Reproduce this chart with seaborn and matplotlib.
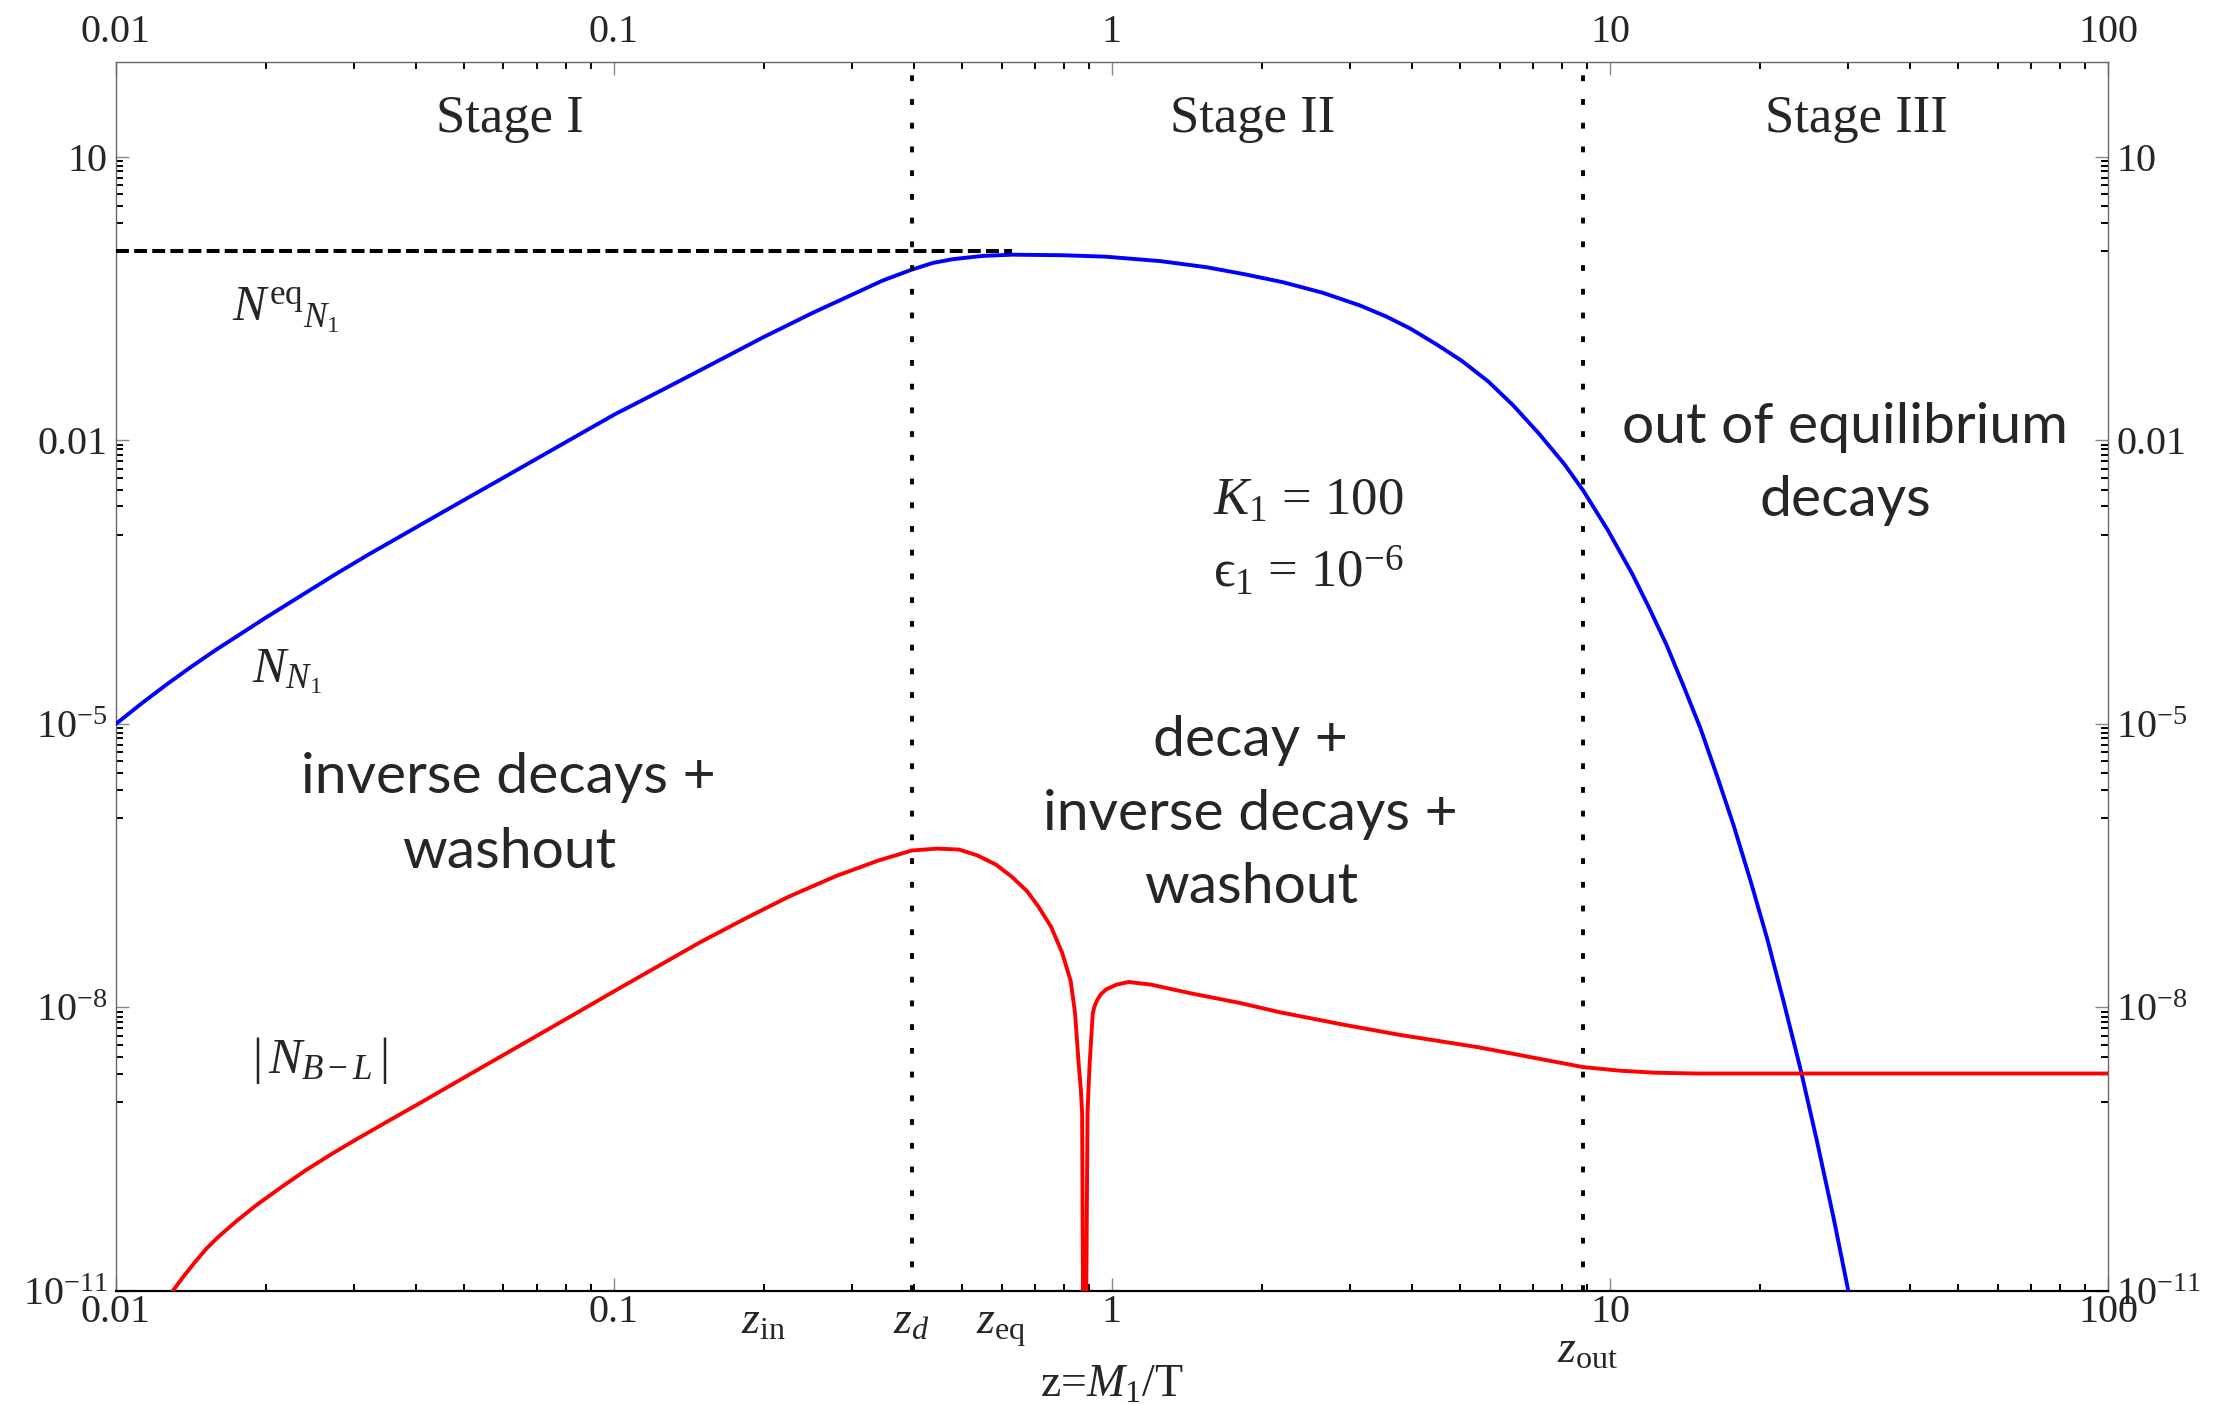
import matplotlib
matplotlib.use("Agg")
import matplotlib.pyplot as plt
import seaborn as sns
import pandas as pd
from matplotlib.ticker import FixedLocator, FixedFormatter, NullLocator, NullFormatter

# ---------------- values ----------------
# N_N1 (blue)
blue_z = [0.01, 0.01122, 0.01259, 0.01413, 0.01585, 0.01778, 0.01995, 0.02344, 0.02754, 0.03236,
          0.03715, 0.04677, 0.05888, 0.07762, 0.1, 0.1259, 0.1514, 0.1995, 0.2512, 0.298,
          0.3467, 0.396, 0.4365, 0.4786, 0.5495, 0.631, 0.794, 0.97, 1.25, 1.55,
          1.85, 2.21, 2.65, 3.15, 3.55, 3.98, 4.5, 5.04, 5.7, 6.39,
          7.2, 8.09, 8.83, 9.9, 11.1, 12.0, 13.0, 14.0, 15.2, 16.4,
          17.7, 19.2, 20.7, 22.3, 24.1, 26.0, 28.1, 30.1, 30.5]
blue_N = [1.0e-5, 1.62e-5, 2.57e-5, 3.98e-5, 6.03e-5, 8.91e-5, 1.32e-4, 2.24e-4, 3.80e-4, 6.31e-4,
          9.55e-4, 1.91e-3, 3.80e-3, 8.71e-3, 1.86e-2, 3.47e-2, 5.75e-2, 0.123, 0.224, 0.339,
          0.490, 0.637, 0.750, 0.822, 0.891, 0.918, 0.906, 0.875, 0.785, 0.676,
          0.569, 0.468, 0.363, 0.266, 0.204, 0.151, 0.102, 0.0692, 0.0417, 0.0234,
          0.01175, 5.62e-3, 2.95e-3, 1.12e-3, 3.80e-4, 1.66e-4, 6.76e-5, 2.63e-5, 8.91e-6, 2.82e-6,
          8.51e-7, 2.09e-7, 5.25e-8, 1.17e-8, 2.29e-9, 3.98e-10, 6.03e-11, 1.0e-11, 6.76e-12]

# |N_B-L| (red)
red_z = [0.013, 0.0136, 0.01435, 0.0152, 0.0161, 0.0175, 0.0191, 0.0215, 0.0241, 0.0272,
         0.0305, 0.035, 0.0414, 0.052, 0.07, 0.085, 0.1, 0.122, 0.149, 0.185,
         0.224, 0.28, 0.34, 0.396, 0.446, 0.493, 0.536, 0.585, 0.63, 0.675,
         0.713, 0.755, 0.794, 0.826, 0.843, 0.857, 0.866, 0.871, 0.880, 0.893,
         0.897, 0.902, 0.915, 0.922, 0.934, 0.95, 0.973, 1.02, 1.08, 1.2,
         1.44, 1.8, 2.17, 2.9, 3.78, 5.43, 7.0, 8.83, 10.5, 12.3,
         15.0, 20.0, 50.0, 100.0]
red_N = [1.0e-11, 1.38e-11, 1.97e-11, 2.82e-11, 3.80e-11, 5.56e-11, 8.04e-11, 1.26e-10, 1.91e-10, 2.85e-10,
         4.07e-10, 6.17e-10, 1.02e-9, 2.04e-9, 5.01e-9, 9.02e-9, 1.48e-8, 2.69e-8, 4.90e-8, 8.91e-8,
         1.48e-7, 2.47e-7, 3.59e-7, 4.57e-7, 4.79e-7, 4.68e-7, 4.07e-7, 3.24e-7, 2.40e-7, 1.70e-7,
         1.15e-7, 7.08e-8, 3.80e-8, 1.91e-8, 8.71e-9, 2.57e-9, 1.35e-9, 7.59e-10, 1.0e-14, 7.59e-10,
         1.35e-9, 2.57e-9, 8.71e-9, 1.02e-8, 1.20e-8, 1.38e-8, 1.55e-8, 1.74e-8, 1.86e-8, 1.74e-8,
         1.41e-8, 1.12e-8, 8.91e-9, 6.61e-9, 5.13e-9, 3.80e-9, 2.95e-9, 2.34e-9, 2.14e-9, 2.04e-9,
         2.0e-9, 2.0e-9, 2.0e-9, 2.0e-9]

# equilibrium value (dashed)
eq_z = [0.01, 0.63]
eq_N = [1.0, 1.0]

# stage boundaries z_d and z_out (dotted)
stage_bounds = [0.396, 8.83]

x_tick_vals = [0.01, 0.1, 1, 10, 100]
x_tick_labels = ["0.01", "0.1", "1", "10", "100"]
y_tick_vals = [1e-11, 1e-8, 1e-5, 0.01, 10]
y_tick_labels = [r"$10^{-11}$", r"$10^{-8}$", r"$10^{-5}$", "0.01", "10"]
z_mark_vals = [0.2, 0.396, 0.6, 9.0]
z_mark_labels = [r"$z_{\mathrm{in}}$", r"$z_{d}$", r"$z_{\mathrm{eq}}$", r"$z_{\mathrm{out}}$"]

# ---------------- style ----------------
sns.set_theme(style="white")
plt.rcParams["font.family"] = ["Liberation Serif", "DejaVu Serif"]
plt.rcParams["mathtext.fontset"] = "custom"
plt.rcParams["mathtext.rm"] = "Liberation Serif"
plt.rcParams["mathtext.it"] = "Liberation Serif:italic"
plt.rcParams["mathtext.bf"] = "Liberation Serif:bold"
plt.rcParams["mathtext.sf"] = "Liberation Serif"

fig = plt.figure(figsize=(22.3, 14.05), dpi=100)
ax = fig.add_axes([0.0520, 0.0811, 0.8933, 0.8747])
ax.set_xscale("log")
ax.set_yscale("log")
ax.set_xlim(0.01, 100)
ax.set_ylim(1e-11, 100)

blue_df = pd.DataFrame({"z": blue_z, "N": blue_N})
red_df = pd.DataFrame({"z": red_z, "N": red_N})
sns.lineplot(data=blue_df, x="z", y="N", ax=ax, color="#0000ff", linewidth=2.8,
             estimator=None, sort=False, zorder=3)
sns.lineplot(data=red_df, x="z", y="N", ax=ax, color="#ff0000", linewidth=2.8,
             estimator=None, sort=False, zorder=4)
ax.plot(eq_z, eq_N, color="black", linewidth=2.9, dashes=(3.2, 1.3), zorder=5)
for zb in stage_bounds:
    ax.axvline(zb, color="black", linewidth=2.8, dashes=(1.5, 4.6), zorder=6)

ax.set_xlabel("")
ax.set_ylabel("")

# ticks
ax.xaxis.set_major_locator(FixedLocator(x_tick_vals))
ax.xaxis.set_major_formatter(FixedFormatter(x_tick_labels))
ax.xaxis.set_minor_locator(FixedLocator([m * 10.0 ** k for k in range(-2, 2) for m in range(2, 10)]))
ax.xaxis.set_minor_formatter(NullFormatter())
ax.yaxis.set_major_locator(FixedLocator(y_tick_vals))
ax.yaxis.set_major_formatter(FixedFormatter(y_tick_labels))
ax.yaxis.set_minor_locator(FixedLocator([m * 10.0 ** (k - 1) for k in (1, -2, -5, -8) for m in range(1, 10)]))
ax.yaxis.set_minor_formatter(NullFormatter())

ax.tick_params(which="major", direction="in", length=9.5, width=1.0, color="#888888",
               top=True, right=True, bottom=True, left=True, labeltop=False,
               labelright=True, labelsize=29)
ax.tick_params(which="minor", direction="in", length=5, width=1.4, color="black",
               top=True, right=True, bottom=True, left=True)
ax.tick_params(axis="x", which="major", pad=2)
ax.tick_params(axis="y", which="major", pad=6)

secax = ax.secondary_xaxis("top")
secax.xaxis.set_major_locator(FixedLocator(x_tick_vals))
secax.xaxis.set_major_formatter(FixedFormatter(x_tick_labels))
secax.xaxis.set_minor_locator(NullLocator())
secax.tick_params(which="both", length=0, pad=8, labelsize=29)
secax.spines["top"].set_visible(False)

for s in ("left", "right", "top"):
    ax.spines[s].set_color("#666666")
    ax.spines[s].set_linewidth(1.0)
ax.spines["bottom"].set_color("black")
ax.spines["bottom"].set_linewidth(1.6)

# extra z labels below the axis
xt = ax.get_xaxis_transform()
for v, lab in zip(z_mark_vals, z_mark_labels):
    yb = -0.0586 if "out" in lab else -0.035
    ax.text(v, yb, lab, transform=xt, ha="center", va="baseline", fontsize=33)
ax.text(0.5, -0.0862, r"z=$M_1$/T", transform=ax.transAxes, ha="center",
        va="baseline", fontsize=33)

# stage labels
for zc, lab in [(0.0618, "Stage I"), (1.92, "Stage II"), (31.2, "Stage III")]:
    ax.text(zc, 18.4, lab, ha="center", va="baseline", fontsize=38)

# curve labels
ax.text(0.0171, 0.18, r"$N^{\mathrm{eq}}{}_{N_1}$", ha="left", va="baseline", fontsize=36)
ax.text(0.0188, 2.78e-5, r"$N_{N_1}$", ha="left", va="baseline", fontsize=36)
ax.text(0.0257, 2.04e-9, r"$|\,N_{B-L}\,|$", ha="center", va="baseline", fontsize=36)

# parameters
ax.text(2.48, 1.62e-3, r"$K_1$ = 100", ha="center", va="baseline", fontsize=38)
ax.text(2.48, 2.75e-4, "\u03f5$_1$ = 10$^{-6}$", ha="center", va="baseline", fontsize=38,
        family=["Liberation Serif", "DejaVu Serif"])

# process annotations (sans)
sans = ["Lato", "DejaVu Sans"]
ann = [
    (0.0615, 1.86e-6, "inverse decays +"),
    (0.0615, 3.02e-7, "washout"),
    (1.90, 4.57e-6, "decay +"),
    (1.90, 7.59e-7, "inverse decays +"),
    (1.90, 1.26e-7, "washout"),
    (29.7, 9.3e-3, "out of equilibrium"),
    (29.7, 1.58e-3, "decays"),
]
for zc, yc, lab in ann:
    ax.text(zc, yc, lab, ha="center", va="baseline", fontsize=41, family=sans)

fig.savefig("out.png", dpi=100)
